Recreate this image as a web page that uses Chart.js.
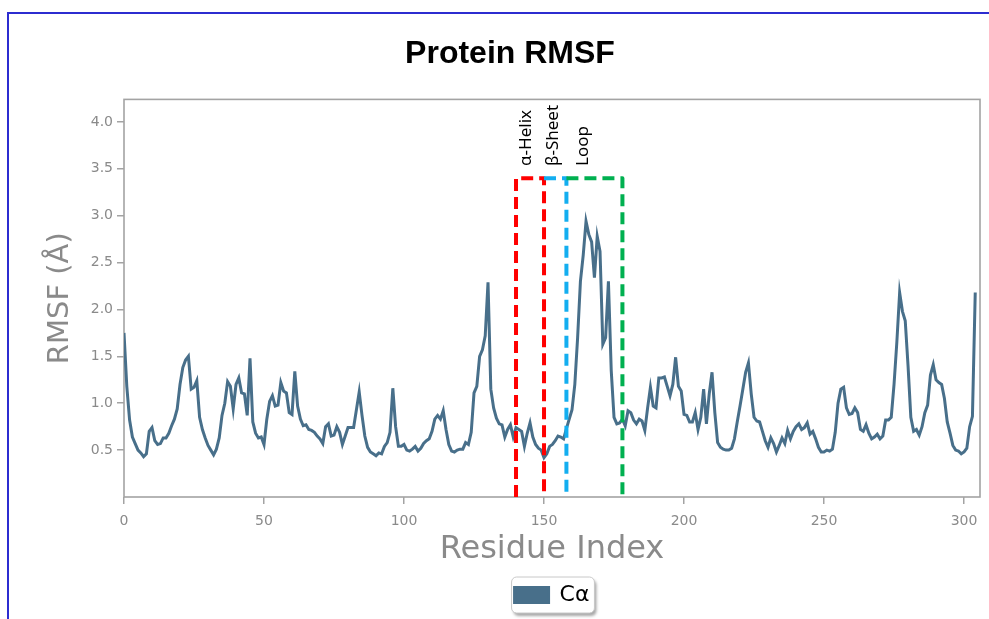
<!DOCTYPE html>
<html>
<head>
<meta charset="utf-8">
<title>Protein RMSF</title>
<script src="https://cdn.jsdelivr.net/npm/chart.js@4.4.1/dist/chart.umd.min.js"></script>
<style>
    html, body { margin: 0; padding: 0; background: #fff; overflow: hidden; }
    #frame { position: absolute; left: 7px; top: 12px; width: 1200px; height: 800px;
             border-left: 2px solid #2c2cd0; border-top: 2px solid #2c2cd0; }
    #wrap { position: absolute; left: 0; top: 0; width: 989px; height: 619px; }
</style>
</head>
<body>
<div id="frame"></div>
<div id="wrap"><canvas id="rmsfChart" width="989" height="619"></canvas></div>
<script>
// C-alpha RMSF per residue (Å)
const rmsfValues = [
    1.75, 1.18, 0.82, 0.64, 0.57, 0.50, 0.47, 0.43, 0.46, 0.70,
    0.74, 0.60, 0.56, 0.57, 0.63, 0.63, 0.68, 0.76, 0.83, 0.94,
    1.20, 1.38, 1.46, 1.50, 1.15, 1.17, 1.24, 0.85, 0.72, 0.63,
    0.55, 0.50, 0.45, 0.51, 0.63, 0.87, 1.00, 1.23, 1.18, 0.94,
    1.20, 1.27, 1.11, 1.10, 0.87, 1.48, 0.80, 0.68, 0.63, 0.64,
    0.56, 0.83, 1.02, 1.08, 0.97, 0.98, 1.22, 1.13, 1.11, 0.90,
    0.88, 1.34, 0.97, 0.83, 0.76, 0.77, 0.72, 0.71, 0.69, 0.65,
    0.62, 0.57, 0.75, 0.78, 0.65, 0.66, 0.75, 0.69, 0.56, 0.65,
    0.74, 0.74, 0.74, 0.93, 1.12, 0.87, 0.65, 0.53, 0.48, 0.46,
    0.44, 0.47, 0.46, 0.54, 0.58, 0.69, 1.16, 0.75, 0.54, 0.54,
    0.56, 0.50, 0.49, 0.51, 0.54, 0.49, 0.52, 0.57, 0.60, 0.62,
    0.70, 0.83, 0.87, 0.83, 0.92, 0.72, 0.56, 0.49, 0.48, 0.50,
    0.51, 0.51, 0.58, 0.56, 0.69, 1.11, 1.18, 1.50, 1.57, 1.72,
    2.29, 1.15, 0.95, 0.84, 0.78, 0.77, 0.64, 0.72, 0.77, 0.64,
    0.74, 0.72, 0.70, 0.54, 0.68, 0.79, 0.64, 0.56, 0.52, 0.50,
    0.42, 0.46, 0.54, 0.56, 0.60, 0.65, 0.64, 0.62, 0.73, 0.83,
    0.93, 1.20, 1.70, 2.30, 2.58, 2.94, 2.80, 2.72, 2.34, 2.78,
    2.62, 1.63, 1.70, 2.30, 1.35, 0.85, 0.78, 0.79, 0.83, 0.76,
    0.92, 0.90, 0.82, 0.78, 0.83, 0.81, 0.71, 0.95, 1.17, 0.97,
    0.95, 1.27, 1.27, 1.28, 1.18, 1.08, 1.20, 1.49, 1.18, 1.13,
    0.88, 0.87, 0.80, 0.80, 0.90, 0.72, 0.85, 1.15, 0.78, 1.10,
    1.33, 0.90, 0.58, 0.53, 0.51, 0.50, 0.50, 0.52, 0.62, 0.80,
    0.97, 1.15, 1.33, 1.43, 1.10, 0.85, 0.81, 0.80, 0.70, 0.60,
    0.53, 0.63, 0.57, 0.48, 0.55, 0.63, 0.57, 0.71, 0.62, 0.70,
    0.75, 0.78, 0.72, 0.74, 0.79, 0.67, 0.70, 0.62, 0.53, 0.48,
    0.48, 0.50, 0.49, 0.51, 0.69, 1.00, 1.15, 1.17, 0.95, 0.88,
    0.89, 0.95, 0.90, 0.72, 0.70, 0.77, 0.68, 0.62, 0.64, 0.67,
    0.62, 0.65, 0.82, 0.82, 0.85, 1.20, 1.65, 2.18, 1.98, 1.88,
    1.40, 0.85, 0.70, 0.72, 0.66, 0.75, 0.90, 0.98, 1.30, 1.41,
    1.25, 1.22, 1.20, 1.05, 0.80, 0.68, 0.55, 0.50, 0.49, 0.46,
    0.48, 0.52, 0.75, 0.86, 2.18
];
const residueIndex = rmsfValues.map((_, i) => i);

// secondary structure boxes (residue ranges)
const regionNames  = ['α-Helix', 'β-Sheet', 'Loop'];
const regionStarts = [140, 150, 158];
const regionEnds   = [150, 158, 178];
const regionLabelAt = [143.6, 153.2, 163.9];
const regionTop = 3.4;
const regionLabelBase = 3.53;
const regionColors = ['#ff0000', '#13aef0', '#00b050'];

const lineColor = '#486f8a';
const axisGray = '#a3a3a3';
const textGray = '#8a8a8a';

const plotBox = {
    id: 'plotBox',
    beforeDatasetsDraw(chart) {
        const { ctx, chartArea: a } = chart;
        ctx.save();
        ctx.strokeStyle = axisGray;
        ctx.lineWidth = 1.6;
        ctx.strokeRect(a.left, a.top, a.right - a.left, a.bottom - a.top);
        ctx.restore();
    }
};

const regionBoxes = {
    id: 'regionBoxes',
    afterDatasetsDraw(chart) {
        const { ctx, scales: { x, y } } = chart;
        const top = y.getPixelForValue(regionTop);
        const bottom = y.getPixelForValue(0);
        ctx.save();
        ctx.lineWidth = 4;
        ctx.setLineDash([12, 6]);
        ctx.lineJoin = 'round';
        regionStarts.forEach((start, i) => {
            const x0 = x.getPixelForValue(start);
            const x1 = x.getPixelForValue(regionEnds[i]);
            ctx.strokeStyle = regionColors[i];
            ctx.beginPath();
            if (i === 0) {
                ctx.moveTo(x0, bottom);
                ctx.lineTo(x0, top);
            } else {
                ctx.moveTo(x0, top);
            }
            ctx.lineTo(x1, top);
            ctx.lineTo(x1, bottom);
            ctx.stroke();
        });
        ctx.setLineDash([]);
        ctx.fillStyle = '#000';
        ctx.font = '17px "Noto Sans"';
        ctx.textAlign = 'left';
        ctx.textBaseline = 'middle';
        regionNames.forEach((name, i) => {
            ctx.save();
            ctx.translate(x.getPixelForValue(regionLabelAt[i]), y.getPixelForValue(regionLabelBase));
            ctx.rotate(-Math.PI / 2);
            ctx.fillText(name, 0, 0);
            ctx.restore();
        });
        ctx.restore();
    }
};

// rounded frame with a drop shadow behind the legend item
const legendFrame = {
    id: 'legendFrame',
    beforeDraw(chart) {
        const hb = chart.legend && chart.legend.legendHitBoxes[0];
        if (!hb) return;
        const { ctx } = chart;
        const l = hb.left - 3, t = hb.top - 7, w = hb.width + 8, h = hb.height + 14;
        ctx.save();
        ctx.shadowColor = 'rgba(0,0,0,0.35)';
        ctx.shadowBlur = 3;
        ctx.shadowOffsetX = 2;
        ctx.shadowOffsetY = 3;
        ctx.fillStyle = '#fff';
        ctx.strokeStyle = '#c8c8c8';
        ctx.lineWidth = 1;
        ctx.beginPath();
        ctx.roundRect(l, t, w, h, 5);
        ctx.fill();
        ctx.shadowColor = 'transparent';
        ctx.stroke();
        ctx.restore();
    }
};

const ctx = document.getElementById('rmsfChart').getContext('2d');
new Chart(ctx, {
    type: 'line',
    data: {
        labels: residueIndex,
        datasets: [{
            label: 'Cα',
            data: rmsfValues,
            borderColor: lineColor,
            backgroundColor: lineColor,
            borderWidth: 3,
            pointRadius: 0,
            tension: 0
        }]
    },
    options: {
        responsive: false,
        animation: false,
        layout: { padding: { left: 40, right: 9, top: 0, bottom: 3 } },
        scales: {
            x: {
                type: 'linear',
                min: 0,
                max: 305.7,
                afterFit(scale) { scale.height = 77; },
                border: { display: false },
                grid: { drawOnChartArea: false, drawTicks: true, tickLength: 7, color: axisGray, lineWidth: 1.5 },
                ticks: {
                    stepSize: 50,
                    includeBounds: false,
                    padding: 9,
                    color: textGray,
                    font: { family: 'DejaVu Sans', size: 14 },
                    callback: v => String(v)
                },
                title: {
                    display: true,
                    text: 'Residue Index',
                    color: textGray,
                    font: { family: 'DejaVu Sans', size: 32 },
                    padding: { top: 0, bottom: 5 }
                }
            },
            y: {
                min: 0,
                max: 4.24,
                afterFit(scale) { scale.width = 84; },
                afterBuildTicks(scale) {
                    scale.ticks = scale.ticks.filter(t => t.value > 0 && t.value <= 4);
                },
                border: { display: false },
                grid: { drawOnChartArea: false, drawTicks: true, tickLength: 7, color: axisGray, lineWidth: 1.5 },
                ticks: {
                    stepSize: 0.5,
                    padding: 4,
                    color: textGray,
                    font: { family: 'DejaVu Sans', size: 14 },
                    callback: v => v.toFixed(1)
                },
                title: {
                    display: true,
                    text: 'RMSF (Å)',
                    color: textGray,
                    font: { family: 'DejaVu Sans', size: 29 },
                    padding: { top: 3, bottom: 0 }
                }
            }
        },
        plugins: {
            title: {
                display: true,
                text: 'Protein RMSF',
                color: '#000',
                font: { family: 'Liberation Sans', size: 32, weight: 'bold' },
                padding: { top: 35, bottom: 26 }
            },
            legend: {
                display: true,
                position: 'bottom',
                fullSize: false,
                labels: {
                    boxWidth: 34,
                    boxHeight: 15,
                    padding: 10,
                    color: '#000',
                    font: { family: 'DejaVu Sans', size: 22 }
                }
            },
            tooltip: { enabled: false }
        }
    },
    plugins: [plotBox, regionBoxes, legendFrame]
});
</script>
</body>
</html>
